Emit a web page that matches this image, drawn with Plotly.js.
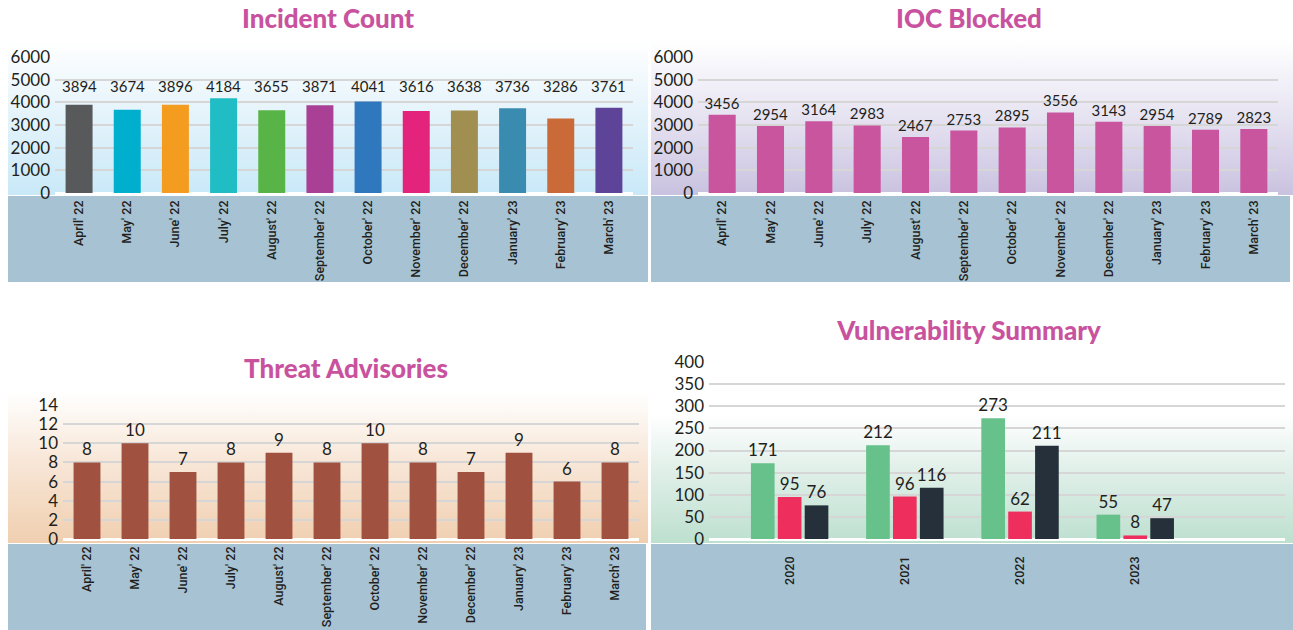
<!DOCTYPE html>
<html>
<head>
<meta charset="utf-8">
<script src="https://cdn.plot.ly/plotly-3.0.1.min.js"></script>
<style>
  html, body { margin: 0; padding: 0; background: #ffffff; }
  #wrap { position: relative; width: 1293px; height: 630px; overflow: hidden; background: #fff; }
  .bg { position: absolute; }
  .chart { position: absolute; }
</style>
</head>
<body>
<div id="wrap">
  <div class="bg" style="left:8px;top:40px;width:640px;height:155px;background:linear-gradient(#ffffff 0%, #e6f4fb 45%, #c9e9f8 100%);"></div>
  <div class="bg" style="left:8px;top:196px;width:640px;height:86px;background:#a7c3d3;"></div>
  <div class="bg" style="left:651px;top:40px;width:642px;height:155px;background:linear-gradient(#ffffff 0%, #e9e6f3 45%, #c9c2e0 100%);"></div>
  <div class="bg" style="left:651px;top:196px;width:639px;height:86px;background:#a7c3d3;"></div>
  <div class="bg" style="left:8px;top:392px;width:640px;height:151px;background:linear-gradient(#ffffff 0%, #f8e7d8 45%, #f0cfb0 100%);"></div>
  <div class="bg" style="left:8px;top:544px;width:638px;height:86px;background:#a7c3d3;"></div>
  <div class="bg" style="left:651px;top:392px;width:642px;height:151px;background:linear-gradient(#ffffff 0%, #ffffff 15%, #e2f0ea 50%, #bde0cf 100%);"></div>
  <div class="bg" style="left:651px;top:544px;width:642px;height:86px;background:#a7c3d3;"></div>
  <div id="c1" class="chart" style="left:0px;top:0px;width:650px;height:300px;"></div>
  <div id="c2" class="chart" style="left:648px;top:0px;width:645px;height:300px;"></div>
  <div id="c3" class="chart" style="left:0px;top:310px;width:650px;height:320px;"></div>
  <div id="c4" class="chart" style="left:648px;top:310px;width:645px;height:320px;"></div>
</div>
<script>
// ---- data ----
const months = ["April' 22","May' 22","June' 22","July' 22","August' 22","September' 22","October' 22","November' 22","December' 22","January' 23","February' 23","March' 23"];
const incidentCount = [3894,3674,3896,4184,3655,3871,4041,3616,3638,3736,3286,3761];
const iocBlocked = [3456,2954,3164,2983,2467,2753,2895,3556,3143,2954,2789,2823];
const threatAdvisories = [8,10,7,8,9,8,10,8,7,9,6,8];
const vulnYears = ["2020","2021","2022","2023"];
const vulnSeriesA = [171,212,273,55];
const vulnSeriesB = [95,96,62,8];
const vulnSeriesC = [76,116,211,47];

// ---- styles ----
const titleColor = '#c9529e';
const textColor = '#231f20';
const gridColor = '#d6d6d6';
const numFont = 'Lato, "Open Sans", sans-serif';
const incidentColors = ['#58595b','#00aece','#f39c1f','#20bdc4','#58b446','#a94096','#2f78be','#e4237d','#a08f50','#3a8bb0','#ca6a38','#5e4498'];

function baseLayout(w, h, margin, titleText, titleX, titleY, yRange, dtick) {
  return {
    width: w, height: h,
    margin: margin,
    paper_bgcolor: 'rgba(0,0,0,0)',
    plot_bgcolor: 'rgba(0,0,0,0)',
    showlegend: false,
    title: {
      text: titleText,
      x: titleX, xref: 'container', xanchor: 'center',
      y: titleY, yref: 'container', yanchor: 'middle',
      font: { family: 'Lato, "Open Sans", sans-serif', size: 26, color: titleColor, weight: 900 }
    },
    xaxis: {
      type: 'category',
      tickangle: -90,
      tickfont: { family: 'Roboto, "Open Sans", sans-serif', size: 12.5, color: textColor, weight: 500 },
      showgrid: false, zeroline: false, showline: false,
      ticks: '', fixedrange: true,
      ticklabelstandoff: 4
    },
    yaxis: {
      range: yRange, dtick: dtick,
      tickfont: { family: numFont, size: 17, color: textColor },
      showgrid: true, gridcolor: gridColor, gridwidth: 2,
      zeroline: true, zerolinecolor: '#ffffff', zerolinewidth: 3,
      showline: false, ticks: '', fixedrange: true,
      ticklabelstandoff: 4
    }
  };
}

// Chart 1: Incident Count
(function () {
  const layout = baseLayout(650, 300, {l: 55, r: 17, t: 57, b: 107}, 'Incident Count', 328/650, 1 - 19/300, [0, 6000], 1000);
  layout.xaxis.range = [-0.5, 11.5];
  layout.bargap = 0.44;
  layout.annotations = months.map((m, i) => ({
    x: m, xref: 'x', y: 0.786, yref: 'paper', yanchor: 'middle',
    text: String(incidentCount[i]), showarrow: false,
    font: { family: numFont, size: 15, color: textColor }
  }));
  Plotly.newPlot('c1', [{
    type: 'bar', x: months, y: incidentCount,
    marker: { color: incidentColors },
    hoverinfo: 'skip'
  }], layout, { staticPlot: true });
})();

// Chart 2: IOC Blocked
(function () {
  const layout = baseLayout(645, 300, {l: 50, r: 15, t: 57, b: 107}, 'IOC Blocked', 321/645, 1 - 19/300, [0, 6000], 1000);
  layout.xaxis.range = [-0.5, 11.5];
  layout.bargap = 0.44;
  Plotly.newPlot('c2', [{
    type: 'bar', x: months, y: iocBlocked,
    marker: { color: '#c8559e' },
    text: iocBlocked.map(String), textposition: 'outside', cliponaxis: false,
    constraintext: 'none',
    textfont: { family: numFont, size: 15, color: textColor },
    hoverinfo: 'skip'
  }], layout, { staticPlot: true });
})();

// Chart 3: Threat Advisories
(function () {
  const layout = baseLayout(650, 320, {l: 63, r: 11, t: 95, b: 91}, 'Threat Advisories', 346/650, 1 - 59/320, [0, 14], 2);
  layout.xaxis.range = [-0.5, 11.5];
  layout.bargap = 0.44;
  Plotly.newPlot('c3', [{
    type: 'bar', x: months, y: threatAdvisories,
    marker: { color: '#a1513f' },
    text: threatAdvisories.map(String), textposition: 'outside', cliponaxis: false,
    constraintext: 'none',
    textfont: { family: numFont, size: 17, color: textColor },
    hoverinfo: 'skip'
  }], layout, { staticPlot: true });
})();

// Chart 4: Vulnerability Summary
(function () {
  const layout = baseLayout(645, 320, {l: 61, r: 8, t: 52, b: 91}, 'Vulnerability Summary', 321/645, 1 - 21/320, [0, 400], 50);
  layout.xaxis.range = [-0.7, 4.3];
  layout.xaxis.ticklabelstandoff = 14;
  layout.bargap = 0.3;
  layout.bargroupgap = 0.12;
  layout.barmode = 'group';
  const mk = (vals, color) => ({
    type: 'bar', x: vulnYears, y: vals,
    marker: { color: color },
    text: vals.map(String), textposition: 'outside', cliponaxis: false,
    constraintext: 'none',
    textfont: { family: numFont, size: 17, color: textColor },
    hoverinfo: 'skip'
  });
  Plotly.newPlot('c4', [
    mk(vulnSeriesA, '#66c18a'),
    mk(vulnSeriesB, '#ee2f5e'),
    mk(vulnSeriesC, '#26303b')
  ], layout, { staticPlot: true });
})();
</script>
</body>
</html>
